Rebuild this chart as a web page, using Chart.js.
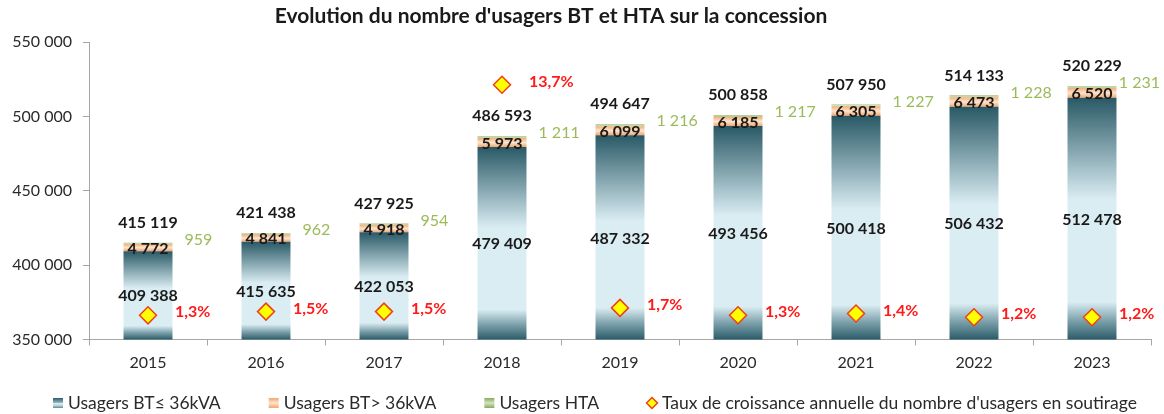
<!DOCTYPE html>
<html>
<head>
<meta charset="utf-8">
<script src="https://cdn.jsdelivr.net/npm/chart.js@4.4.1/dist/chart.umd.min.js"></script>
<style>
html,body{margin:0;padding:0;background:#fff;}
#wrap{width:1164px;height:414px;position:relative;}
</style>
</head>
<body>
<div id="wrap"><canvas id="c"></canvas></div>
<script>
const years = ['2015','2016','2017','2018','2019','2020','2021','2022','2023'];
const btLow = [409388, 415635, 422053, 479409, 487332, 493456, 500418, 506432, 512478];
const btHigh = [4772, 4841, 4918, 5973, 6099, 6185, 6305, 6473, 6520];
const hta = [959, 962, 954, 1211, 1216, 1217, 1227, 1228, 1231];
const growth = [1.3, 1.5, 1.5, 13.7, 1.7, 1.3, 1.4, 1.2, 1.2];
const seriesNames = ['Usagers BT\u2264 36kVA', 'Usagers BT> 36kVA', 'Usagers HTA', "Taux de croissance annuelle du nombre d'usagers en soutirage"];
const chartTitle = "Evolution du nombre d'usagers BT et HTA sur la concession";
const yMin = 350000, yMax = 550000, yStep = 50000;
const rateMax = 16;

const FONT = 'Lato, "Open Sans", "DejaVu Sans", sans-serif';

function fmt(n) {
  return String(Math.round(n)).replace(/\B(?=(\d{3})+(?!\d))/g, ' ');
}
function fmtPct(v) {
  return v.toFixed(1).replace('.', ',') + '%';
}
function grad(ctx, top, bottom, stops) {
  if (!isFinite(top) || !isFinite(bottom) || top === bottom) return stops[0][1];
  const g = ctx.createLinearGradient(0, top, 0, bottom);
  stops.forEach(s => g.addColorStop(s[0], s[1]));
  return g;
}
const tealStops = [[0,'#295966'],[0.42,'#daedf3'],[0.845,'#daedf3'],[0.92,'#7fa3ad'],[1,'#2b5c69']];
const orangeStops = [[0,'#f5ae78'],[0.5,'#fde4cf'],[1,'#f3a56a']];
const greenStops = [[0,'#9dbc78'],[0.5,'#d3e4be'],[1,'#98b970']];
const legendTeal = [[0,'#2b5c69'],[0.45,'#8fb2bb'],[0.55,'#daedf3'],[0.75,'#b8d3da'],[1,'#5f8a95']];
const legendOrange = [[0,'#f3a56a'],[0.5,'#fde4cf'],[1,'#f3a56a']];
const legendGreen = [[0,'#86a95d'],[0.5,'#d3e4be'],[1,'#86a95d']];

function segBg(stops, lowerFn, upperFn, fallback) {
  return function(c) {
    const ch = c.chart;
    if (!ch.chartArea || c.type !== 'data') return fallback;
    const y = ch.scales.y;
    const i = c.dataIndex;
    const top = y.getPixelForValue(upperFn(i));
    const lower = lowerFn(i);
    const bottom = lower === null ? ch.chartArea.bottom : y.getPixelForValue(lower);
    return grad(ch.ctx, top, bottom, stops);
  };
}

const titlePlugin = {
  id: 'customTitle',
  afterDraw(chart) {
    const ctx = chart.ctx;
    ctx.save();
    ctx.font = 'bold 21px ' + FONT;
    ctx.fillStyle = '#1a1a1a';
    ctx.textAlign = 'center';
    ctx.textBaseline = 'middle';
    ctx.fillText(chartTitle, 551, 16);
    ctx.restore();
  }
};

const legendPlugin = {
  id: 'customLegend',
  afterDraw(chart) {
    const ctx = chart.ctx;
    ctx.save();
    ctx.font = '17.5px ' + FONT;
    ctx.textBaseline = 'middle';
    ctx.textAlign = 'left';
    const cy = 403, startX = 53, endX = 1137, box = 10, gap = 5;
    const widths = seriesNames.map(t => ctx.measureText(t).width);
    const content = widths.reduce((a, w) => a + box + gap + w, 0);
    const spacing = (endX - startX - content) / (seriesNames.length - 1);
    let x = startX;
    const boxStops = [legendTeal, legendOrange, legendGreen];
    seriesNames.forEach((t, i) => {
      if (i < 3) {
        ctx.fillStyle = grad(ctx, cy - box / 2, cy + box / 2, boxStops[i]);
        ctx.fillRect(x, cy - box / 2, box, box);
      } else {
        const r = 5.5, cx = x + box / 2;
        ctx.beginPath();
        ctx.moveTo(cx, cy - r); ctx.lineTo(cx + r, cy); ctx.lineTo(cx, cy + r); ctx.lineTo(cx - r, cy);
        ctx.closePath();
        ctx.fillStyle = '#ffff00'; ctx.fill();
        ctx.lineWidth = 1.5; ctx.strokeStyle = '#f0401a'; ctx.stroke();
      }
      ctx.fillStyle = '#2a2a2a';
      ctx.fillText(t, x + box + gap, cy);
      x += box + gap + widths[i] + spacing;
    });
    ctx.restore();
  }
};

const labelPlugin = {
  id: 'valueLabels',
  afterDatasetsDraw(chart) {
    const ctx = chart.ctx;
    const area = chart.chartArea;
    const m0 = chart.getDatasetMeta(0).data;
    const m1 = chart.getDatasetMeta(1).data;
    const m2 = chart.getDatasetMeta(2).data;
    const m3 = chart.getDatasetMeta(3).data;
    ctx.save();
    ctx.textBaseline = 'middle';
    for (let i = 0; i < years.length; i++) {
      const b0 = m0[i], b1 = m1[i], b2 = m2[i], p = m3[i];
      ctx.font = 'bold 16px ' + FONT;
      ctx.fillStyle = '#1a1a1a';
      ctx.textAlign = 'center';
      ctx.fillText(fmt(btLow[i]), b0.x, (b0.y + area.bottom) / 2 + 1);
      ctx.fillText(fmt(btHigh[i]), b1.x, (b1.y + b1.base) / 2 + 1);
      const total = btLow[i] + btHigh[i] + hta[i];
      ctx.fillText(fmt(total), b2.x, b2.y - 20);
      ctx.font = '16px ' + FONT;
      ctx.fillStyle = '#9bbb59';
      ctx.textAlign = 'left';
      const t = fmt(hta[i]);
      const w = ctx.measureText(t).width;
      const hx = Math.min(b2.x + b2.width / 2 + 12, chart.width - w - 4);
      ctx.fillText(t, hx, b2.y - 3);
      ctx.font = 'bold 16px ' + FONT;
      ctx.fillStyle = '#ff1a1a';
      ctx.fillText(fmtPct(growth[i]), p.x + 27, p.y - 3);
    }
    ctx.restore();
  }
};

const ctx = document.getElementById('c');
new Chart(ctx, {
  data: {
    labels: years,
    datasets: [
      {
        type: 'bar', label: seriesNames[0], data: btLow, order: 1,
        backgroundColor: segBg(tealStops, i => null, i => btLow[i], '#7fa6b0'),
        barPercentage: 0.415, categoryPercentage: 1, borderWidth: 0
      },
      {
        type: 'bar', label: seriesNames[1], data: btHigh, order: 1,
        backgroundColor: segBg(orangeStops, i => btLow[i], i => btLow[i] + btHigh[i], '#f8b98b'),
        barPercentage: 0.415, categoryPercentage: 1, borderWidth: 0
      },
      {
        type: 'bar', label: seriesNames[2], data: hta, order: 1,
        backgroundColor: segBg(greenStops, i => btLow[i] + btHigh[i], i => btLow[i] + btHigh[i] + hta[i], '#a3c17f'),
        barPercentage: 0.415, categoryPercentage: 1, borderWidth: 0
      },
      {
        type: 'line', label: seriesNames[3], data: growth, yAxisID: 'y2', order: 0,
        showLine: false, pointStyle: 'rectRot', pointRadius: 8.5, pointHoverRadius: 8.5,
        pointBackgroundColor: '#ffff00', pointBorderColor: '#f0401a', pointBorderWidth: 1.5,
        backgroundColor: '#ffff00', borderColor: '#f0401a'
      }
    ]
  },
  options: {
    responsive: true,
    maintainAspectRatio: false,
    animation: false,
    devicePixelRatio: 1,
    layout: { padding: { top: 42, right: 13, left: 0, bottom: 34.5 } },
    scales: {
      x: {
        stacked: true,
        grid: { display: true, drawOnChartArea: false, offset: true, tickLength: 6, color: '#a6a6a6' },
        border: { display: true, color: '#a6a6a6', width: 1 },
        ticks: { color: '#2a2a2a', font: { family: FONT, size: 16 }, padding: 8, maxRotation: 0 },
        afterFit(s) { s.height = 40; }
      },
      y: {
        stacked: true,
        min: yMin, max: yMax,
        grid: { display: true, drawOnChartArea: false, tickLength: 6, color: '#a6a6a6' },
        border: { display: true, color: '#a6a6a6', width: 1 },
        ticks: { stepSize: yStep, color: '#2a2a2a', font: { family: FONT, size: 16 }, padding: 11,
          callback: v => fmt(v) },
        afterFit(s) { s.width = 89; }
      },
      y2: {
        type: 'linear', position: 'right', min: 0, max: rateMax, display: false
      }
    },
    plugins: {
      title: { display: false },
      tooltip: { enabled: false },
      legend: { display: false }
    }
  },
  plugins: [titlePlugin, labelPlugin, legendPlugin]
});
</script>
</body>
</html>
